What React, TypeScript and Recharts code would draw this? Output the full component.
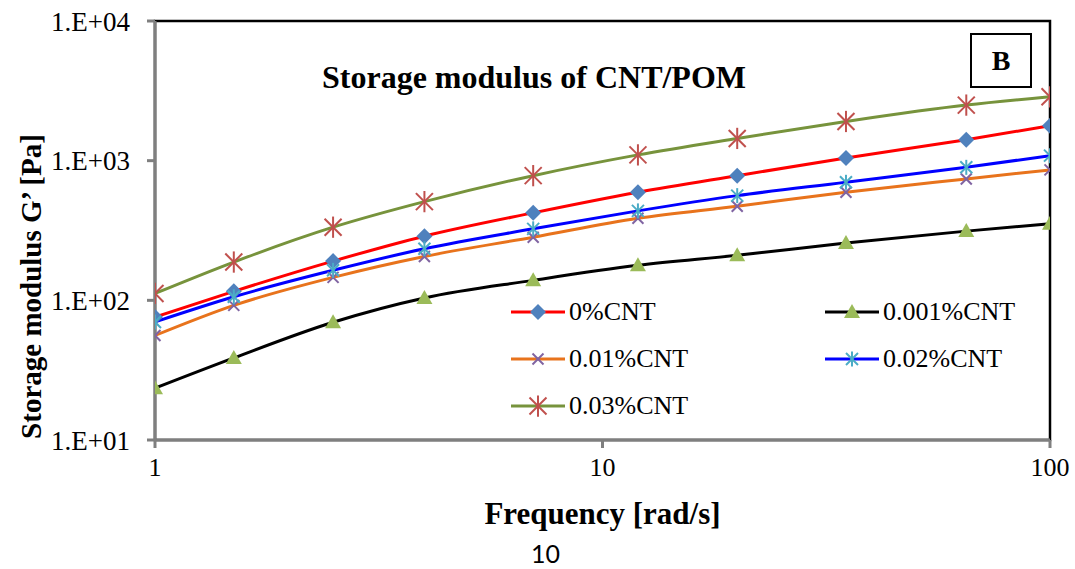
import React from "react";
import { LineChart, Line, XAxis, YAxis, ReferenceArea } from "recharts";

const SERIF = "'Liberation Serif', 'Times New Roman', serif";

// frequency points [rad/s]
const frequency = [1, 1.5, 2.5, 4, 7, 12, 20, 35, 65, 100];

// storage modulus G' [Pa]
const cnt0 = [76, 116, 191, 288, 423, 594, 781, 1045, 1413, 1778];
const cnt0001 = [23.5, 38.7, 69.7, 104, 139, 178, 210, 257, 313, 353];
const cnt001 = [56, 92, 146, 206, 283, 387, 472, 594, 740, 859];
const cnt002 = [70, 106, 164, 234, 325, 437, 562, 700, 896, 1086];
const cnt003 = [112, 188, 334, 509, 781, 1100, 1443, 1908, 2500, 2866];

const xTicks = [1, 10, 100];
const yTicks = [10, 100, 1000, 10000];

type Shape = "diamond" | "triangle" | "cross" | "star" | "bigstar";

const series: { key: string; name: string; values: number[]; line: string; shape: Shape; mark: string }[] = [
  { key: "c0", name: "0%CNT", values: cnt0, line: "#FF0000", shape: "diamond", mark: "#4F81BD" },
  { key: "c0001", name: "0.001%CNT", values: cnt0001, line: "#000000", shape: "triangle", mark: "#9BBB59" },
  { key: "c001", name: "0.01%CNT", values: cnt001, line: "#E8731C", shape: "cross", mark: "#8064A2" },
  { key: "c002", name: "0.02%CNT", values: cnt002, line: "#0000FF", shape: "star", mark: "#4BACC6" },
  { key: "c003", name: "0.03%CNT", values: cnt003, line: "#77933C", shape: "bigstar", mark: "#C0504D" },
];

const rows = frequency.map((f, i) => {
  const r: Record<string, number> = { f };
  series.forEach((s) => (r[s.key] = s.values[i]));
  return r;
});

function Marker({ shape, cx, cy, color }: { shape: Shape; cx: number; cy: number; color: string }) {
  if (shape === "diamond") {
    const s = 8;
    return <polygon points={`${cx},${cy - s} ${cx + s},${cy} ${cx},${cy + s} ${cx - s},${cy}`} fill={color} />;
  }
  if (shape === "triangle") {
    return <polygon points={`${cx},${cy - 8} ${cx + 8},${cy + 6} ${cx - 8},${cy + 6}`} fill={color} />;
  }
  const s = shape === "bigstar" ? 8.5 : shape === "star" ? 6 : 5.5;
  return (
    <g stroke={color} strokeWidth={2}>
      <line x1={cx - s} y1={cy - s} x2={cx + s} y2={cy + s} />
      <line x1={cx - s} y1={cy + s} x2={cx + s} y2={cy - s} />
      {shape !== "cross" && <line x1={cx} y1={cy - s * 1.25} x2={cx} y2={cy + s * 1.25} />}
    </g>
  );
}

const fmtY = (v: number) => `1.E+${String(Math.round(Math.log10(v))).padStart(2, "0")}`;

function ChartLegend() {
  return (
    <div
      style={{
        position: "absolute",
        left: 511,
        top: 288,
        width: 640,
        display: "flex",
        flexWrap: "wrap",
        fontFamily: SERIF,
        fontSize: 26,
      }}
    >
      {series.map((s) => (
        <div key={s.key} style={{ width: 314, height: 47, display: "flex", alignItems: "center" }}>
          <svg width={54} height={22}>
            <line x1={0} y1={11} x2={54} y2={11} stroke={s.line} strokeWidth={3} />
            <Marker shape={s.shape} cx={27} cy={11} color={s.mark} />
          </svg>
          <span style={{ marginLeft: 4 }}>{s.name}</span>
        </div>
      ))}
    </div>
  );
}

export default function App() {
  return (
    <div style={{ position: "absolute", left: 0, top: 0, width: 1075, height: 569, background: "#fff", overflow: "hidden" }}>
      <LineChart width={1075} height={569} data={rows} margin={{ top: 21, right: 25, bottom: 0, left: 0 }}>
        <ReferenceArea x1={1} x2={100} y1={10} y2={10000} fill="none" stroke="#000" strokeWidth={2.5} />
        <XAxis
          dataKey="f"
          type="number"
          scale="log"
          domain={[1, 100]}
          ticks={xTicks}
          allowDataOverflow
          height={129}
          stroke="#7f7f7f"
          strokeWidth={3}
          tickSize={8}
          tickMargin={10}
          tick={{ fill: "#000", fontSize: 26, fontFamily: SERIF }}
          label={{
            value: "Frequency [rad/s]",
            position: "insideBottom",
            offset: 45,
            fill: "#000",
            fontSize: 31,
            fontWeight: "bold",
            fontFamily: SERIF,
          }}
        />
        <YAxis
          type="number"
          scale="log"
          domain={[10, 10000]}
          ticks={yTicks}
          allowDataOverflow
          width={155}
          stroke="#7f7f7f"
          strokeWidth={3}
          tickSize={8}
          tickMargin={17}
          tickFormatter={fmtY}
          tick={{ fill: "#000", fontSize: 27, fontFamily: SERIF }}
          label={{
            content: (props: any) => {
              const vb = props.viewBox || { x: 0, y: 21, height: 419 };
              const cx = vb.x + 31;
              const cy = vb.y + vb.height / 2 + 56;
              return (
                <text
                  x={cx}
                  y={cy}
                  transform={`rotate(-90 ${cx} ${cy})`}
                  textAnchor="middle"
                  dominantBaseline="central"
                  fontFamily={SERIF}
                  fontSize={29}
                  fontWeight="bold"
                  fill="#000"
                >
                  Storage modulus G’ [Pa]
                </text>
              );
            },
          }}
        />
        {series.map((s) => (
          <Line
            key={s.key}
            dataKey={s.key}
            name={s.name}
            type="monotone"
            stroke={s.line}
            strokeWidth={3}
            isAnimationActive={false}
            activeDot={false}
            dot={(p: any) => (
              <Marker key={`${s.key}-${p.index}`} shape={s.shape} cx={p.cx} cy={p.cy} color={s.mark} />
            )}
          />
        ))}
      </LineChart>
      <ChartLegend />
      <div
        style={{
          position: "absolute",
          left: 322,
          top: 61,
          fontFamily: SERIF,
          fontSize: 32,
          fontWeight: "bold",
          lineHeight: "32px",
          whiteSpace: "nowrap",
        }}
      >
        Storage modulus of CNT/POM
      </div>
      <div
        style={{
          position: "absolute",
          left: 970,
          top: 33,
          width: 62,
          height: 55,
          boxSizing: "border-box",
          border: "2px solid #000",
          display: "flex",
          alignItems: "center",
          justifyContent: "center",
          fontFamily: SERIF,
          fontSize: 28,
          fontWeight: "bold",
          background: "#fff",
        }}
      >
        B
      </div>
      <div
        style={{
          position: "absolute",
          left: 531,
          top: 541,
          fontFamily: "Lato, 'Open Sans', sans-serif",
          fontSize: 25,
          lineHeight: "24px",
        }}
      >
        10
      </div>
    </div>
  );
}
